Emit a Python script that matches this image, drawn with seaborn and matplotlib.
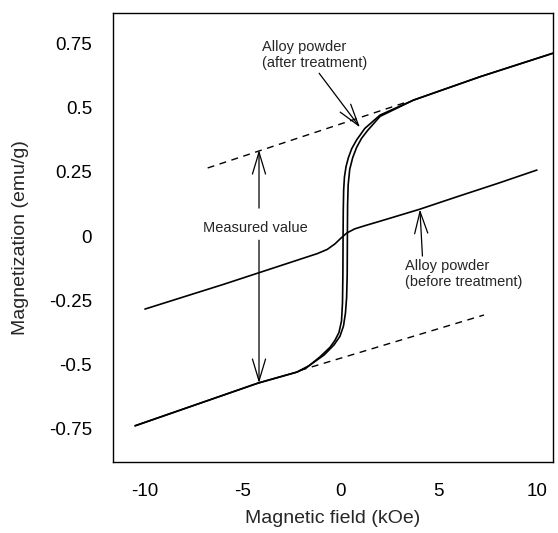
import matplotlib
matplotlib.use("Agg")
import matplotlib.pyplot as plt
import seaborn as sns
import pandas as pd

# --- data (field in kOe, magnetization in emu/g) ---
before_x = [-10, -8, -6, -4, -2, -1.2, -0.7, -0.3, 0, 0.3, 0.7, 1.2, 2, 4, 6, 8, 10]
before_y = [-0.284, -0.236, -0.188, -0.138, -0.088, -0.068, -0.052, -0.03,
            -0.008, 0.012, 0.028, 0.04, 0.058, 0.104, 0.155, 0.205, 0.257]

# descending branch of the loop (left one)
down_x = [10.8, 7.1, 3.7, 2.0, 1.22, 0.8, 0.55, 0.38, 0.26, 0.18, 0.14, 0.12,
          0.11, 0.1, 0.08, 0.03, -0.1, -0.3, -0.56, -1.07, -1.75, -2.24,
          -4.23, -10.5]
down_y = [0.711, 0.62, 0.529, 0.471, 0.419, 0.374, 0.34, 0.305, 0.27, 0.23,
          0.18, 0.1, 0.0, -0.15, -0.26, -0.33, -0.375, -0.405, -0.433, -0.47,
          -0.512, -0.529, -0.572, -0.738]

# ascending branch of the loop (right one)
up_x = [-10.5, -4.23, -2.24, -1.6, -0.85, -0.35, -0.05, 0.13, 0.23, 0.29,
        0.32, 0.33, 0.34, 0.37, 0.45, 0.6, 0.8, 1.05, 1.35, 2.0, 3.7, 7.1, 10.8]
up_y = [-0.738, -0.572, -0.529, -0.503, -0.462, -0.423, -0.39, -0.35, -0.3,
        -0.24, -0.15, 0.0, 0.12, 0.2, 0.26, 0.305, 0.345, 0.38, 0.41, 0.466,
        0.529, 0.62, 0.711]

# extrapolated high-field lines (dashed)
upper_dash_x = [-6.8, 3.3]
upper_dash_y = [0.265, 0.52]
lower_dash_x = [-2.1, 7.3]
lower_dash_y = [-0.523, -0.307]

x_ticks = [-10, -5, 0, 5, 10]
y_ticks = [0.75, 0.5, 0.25, 0, -0.25, -0.5, -0.75]
y_tick_labels = ["0.75", "0.5", "0.25", "0", "-0.25", "-0.5", "-0.75"]

sns.set_theme(style="white")
plt.rcParams["font.family"] = ["Liberation Sans", "DejaVu Sans"]
plt.rcParams["axes.unicode_minus"] = False

fig = plt.figure(figsize=(5.58, 5.33), dpi=100)
ax = fig.add_axes([0.2025, 0.1332, 0.7885, 0.8424])

line_kw = dict(color="black", linewidth=1.2, estimator=None, sort=False, ax=ax)

sns.lineplot(data=pd.DataFrame({"H": before_x, "M": before_y}), x="H", y="M", **line_kw)
sns.lineplot(data=pd.DataFrame({"H": down_x, "M": down_y}), x="H", y="M", **line_kw)
sns.lineplot(data=pd.DataFrame({"H": up_x, "M": up_y}), x="H", y="M", **line_kw)

dash_kw = dict(color="black", linewidth=1.0, estimator=None, sort=False, ax=ax)
sns.lineplot(data=pd.DataFrame({"H": upper_dash_x, "M": upper_dash_y}),
             x="H", y="M", **dash_kw)
ax.lines[-1].set_linestyle((0, (5, 4)))
sns.lineplot(data=pd.DataFrame({"H": lower_dash_x, "M": lower_dash_y}),
             x="H", y="M", **dash_kw)
ax.lines[-1].set_linestyle((0, (5, 4)))

# annotations
arrow = dict(arrowstyle="->,head_length=1.5,head_width=0.45", color="black",
             lw=0.9, shrinkA=0, shrinkB=0)
ax.annotate("", xy=(-4.18, 0.335), xytext=(-4.18, 0.109), arrowprops=arrow,
            fontsize=10.5)
ax.annotate("", xy=(-4.18, -0.572), xytext=(-4.18, -0.016), arrowprops=arrow,
            fontsize=10.5)
ax.text(-4.39, 0.03, "Measured value", ha="center", va="center", fontsize=10.5)

ax.annotate("Alloy powder\n(after treatment)", xy=(0.97, 0.423),
            xytext=(-4.03, 0.704), ha="left", va="center", fontsize=10.5,
            linespacing=1.15, arrowprops=dict(arrow, relpos=(0.52, 0.0)))
ax.annotate("Alloy powder\n(before treatment)", xy=(4.03, 0.104),
            xytext=(3.27, -0.148), ha="left", va="center", fontsize=10.5,
            linespacing=1.15, arrowprops=dict(arrow, relpos=(0.15, 1.0)))

ax.set_xlim(-11.63, 10.82)
ax.set_ylim(-0.879, 0.868)
ax.set_xticks(x_ticks)
ax.set_xticklabels([str(t) for t in x_ticks])
ax.set_yticks(y_ticks)
ax.set_yticklabels(y_tick_labels)
ax.tick_params(axis="y", direction="in", length=10, width=0.9, pad=15,
               labelsize=13.5, colors="black")
ax.tick_params(axis="x", direction="in", length=8.5, width=0.9, pad=15,
               labelsize=13.5, colors="black")

for s in ax.spines.values():
    s.set_color("black")
    s.set_linewidth(1.0)

ax.set_xlabel("Magnetic field (kOe)", fontsize=14)
ax.set_ylabel("Magnetization (emu/g)", fontsize=14)
ax.xaxis.set_label_coords(0.5, -0.108)
ax.yaxis.set_label_coords(-0.19, 0.5)

fig.savefig("out.png", dpi=100)
